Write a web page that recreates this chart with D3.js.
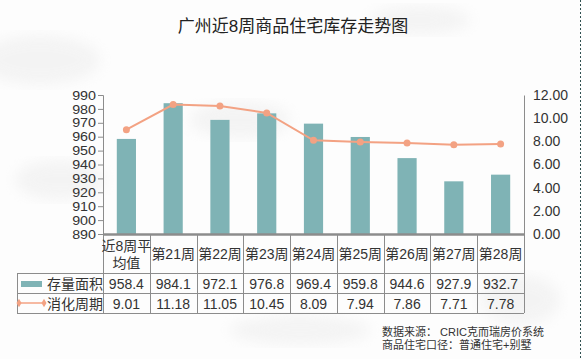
<!DOCTYPE html>
<html><head><meta charset="utf-8">
<script src="https://cdn.jsdelivr.net/npm/d3@7/dist/d3.min.js"></script>
<style>
html,body{margin:0;padding:0;background:#fff;}
svg{display:block;font-family:"Liberation Sans","Noto Sans CJK SC",sans-serif;}
</style></head>
<body>
<svg id="c" width="582" height="359"></svg>
<script>
const title = "广州近8周商品住宅库存走势图";
const categories = ["近8周平均值","第21周","第22周","第23周","第24周","第25周","第26周","第27周","第28周"];
const categoryLines = [["近8周平","均值"],["第21周"],["第22周"],["第23周"],["第24周"],["第25周"],["第26周"],["第27周"],["第28周"]];
const areaValues = [958.4, 984.1, 972.1, 976.8, 969.4, 959.8, 944.6, 927.9, 932.7];
const cycleValues = [9.01, 11.18, 11.05, 10.45, 8.09, 7.94, 7.86, 7.71, 7.78];
const areaLabels = ["958.4","984.1","972.1","976.8","969.4","959.8","944.6","927.9","932.7"];
const cycleLabels = ["9.01","11.18","11.05","10.45","8.09","7.94","7.86","7.71","7.78"];
const leftTicks = [890,900,910,920,930,940,950,960,970,980,990];
const rightTicks = [0,2,4,6,8,10,12];
const seriesNames = ["存量面积","消化周期"];
const sourceLines = ["数据来源： CRIC克而瑞房价系统","商品住宅口径：普通住宅+别墅"];

const svg = d3.select("#c");
const barColor = "#7fb3b5", lineColor = "#f3a283", textColor = "#333", gridColor = "#8c8c8c";
const L = 103, R = 524, T = 95, B = 234;

// faint marble-like background
const bg = svg.append("g");
bg.append("rect").attr("width",582).attr("height",359).attr("fill","#fdfdfd");
const defs = svg.append("defs");
defs.append("filter").attr("id","blur").append("feGaussianBlur").attr("stdDeviation",7);
[[40,60,60,25],[240,120,50,18],[60,180,45,20],[420,20,50,14],[300,330,70,15],[520,300,40,25]].forEach(d=>{
  bg.append("ellipse").attr("cx",d[0]).attr("cy",d[1]).attr("rx",d[2]).attr("ry",d[3])
    .attr("fill","#e6e6e6").attr("opacity",0.4).attr("filter","url(#blur)");
});

// title
svg.append("text").attr("x",293).attr("y",32).attr("text-anchor","middle")
  .attr("font-size",17).attr("fill","#222").text(title);

const x = d3.scaleBand().domain(categories).range([L,R]).paddingInner(0).paddingOuter(0);
const yL = d3.scaleLinear().domain([890,990]).range([B,T]);
const yR = d3.scaleLinear().domain([0,12]).range([B,T]);

// left axis
const axL = svg.append("g").attr("transform",`translate(${L},0)`)
  .call(d3.axisLeft(yL).tickValues(leftTicks).tickSize(5).tickPadding(2).tickFormat(d3.format("d")));
axL.select(".domain").attr("stroke",gridColor);
axL.selectAll(".tick line").attr("stroke",gridColor);
axL.selectAll("text").attr("font-size",13).attr("fill",textColor).attr("font-family","Liberation Sans")
  .attr("transform","scale(1.1,1)").attr("x",-7/1.1);

// right axis
const axR = svg.append("g").attr("transform",`translate(${R},0)`)
  .call(d3.axisRight(yR).tickValues(rightTicks).tickSize(0).tickPadding(9).tickFormat(d3.format(".2f")));
axR.select(".domain").attr("stroke",gridColor);
axR.selectAll("text").attr("font-size",14).attr("fill",textColor).attr("font-family","Liberation Sans");

// bars
const bw = x.bandwidth()*0.41;
svg.append("g").selectAll("rect").data(areaValues).join("rect")
  .attr("x",(d,i)=>x(categories[i])+x.bandwidth()/2-bw/2)
  .attr("y",d=>yL(d)).attr("width",bw).attr("height",d=>B-yL(d)).attr("fill",barColor);

// line
const line = d3.line().x((d,i)=>x(categories[i])+x.bandwidth()/2).y(d=>yR(d));
svg.append("path").datum(cycleValues).attr("d",line).attr("fill","none")
  .attr("stroke",lineColor).attr("stroke-width",2);
svg.append("g").selectAll("circle").data(cycleValues).join("circle")
  .attr("cx",(d,i)=>x(categories[i])+x.bandwidth()/2).attr("cy",d=>yR(d)).attr("r",3.5).attr("fill",lineColor);

// table
const tg = svg.append("g").attr("stroke",gridColor).attr("stroke-width",1).attr("fill","none");
tg.append("line").attr("x1",L).attr("x2",R).attr("y1",B+0.5).attr("y2",B+0.5).attr("stroke-width",2.5);
[273,293,313].forEach(y=>tg.append("line").attr("x1",17).attr("x2",R).attr("y1",y+0.5).attr("y2",y+0.5));
tg.append("line").attr("x1",17.5).attr("x2",17.5).attr("y1",273).attr("y2",313);
categories.forEach(c=>{
  const xx = Math.round(x(c))+0.5;
  tg.append("line").attr("x1",xx).attr("x2",xx).attr("y1",B).attr("y2",313);
});
tg.append("line").attr("x1",R+0.5).attr("x2",R+0.5).attr("y1",B).attr("y2",313);

const tt = svg.append("g").attr("font-size",14).attr("fill",textColor).attr("text-anchor","middle");
categoryLines.forEach((ls,i)=>{
  const cx = x(categories[i])+x.bandwidth()/2;
  if(ls.length===1){
    tt.append("text").attr("x",cx).attr("y",259).text(ls[0]);
  } else {
    tt.append("text").attr("x",cx).attr("y",251).text(ls[0]);
    tt.append("text").attr("x",cx).attr("y",268).text(ls[1]);
  }
  tt.append("text").attr("x",cx).attr("y",289).text(areaLabels[i]);
  tt.append("text").attr("x",cx).attr("y",309).text(cycleLabels[i]);
});

// legend cells
svg.append("rect").attr("x",21).attr("y",281).attr("width",21).attr("height",6).attr("fill",barColor);
svg.append("text").attr("x",47).attr("y",289).attr("font-size",14).attr("fill",textColor).text(seriesNames[0]);
svg.append("line").attr("x1",19).attr("x2",44).attr("y1",303).attr("y2",303).attr("stroke",lineColor).attr("stroke-width",1.5);
[19,44].forEach(px=>svg.append("path").attr("transform",`translate(${px},303)`)
  .attr("d",d3.symbol(d3.symbolDiamond,22)()).attr("fill",lineColor));
svg.append("text").attr("x",47).attr("y",309).attr("font-size",14).attr("fill",textColor).text(seriesNames[1]);

// source
sourceLines.forEach((s,i)=>svg.append("text").attr("x",382).attr("y",336+i*13)
  .attr("font-size",11).attr("fill","#333").text(s));

// dashed right border
svg.append("line").attr("x1",580.5).attr("x2",580.5).attr("y1",0).attr("y2",359)
  .attr("stroke","#2f5050").attr("stroke-width",1).attr("stroke-dasharray","2,2");
</script>
</body></html>
